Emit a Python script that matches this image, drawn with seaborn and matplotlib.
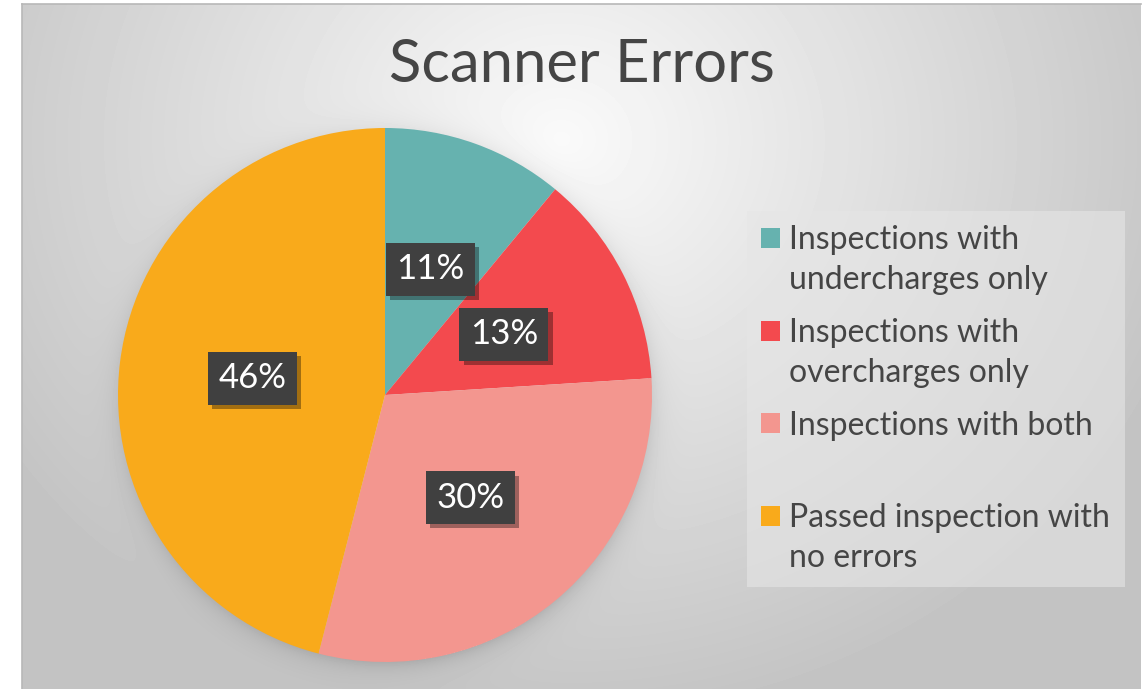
# Pie chart of scanner inspection results
import numpy as np
import matplotlib
matplotlib.use("Agg")
import matplotlib.pyplot as plt
import matplotlib.patheffects as pe
from matplotlib.patches import Rectangle
from matplotlib.legend_handler import HandlerPatch
import seaborn as sns

# data
categories = [
    "Inspections with\nundercharges only",
    "Inspections with\novercharges only",
    "Inspections with both\n ",
    "Passed inspection with\nno errors",
]
shares = [11, 13, 30, 46]
colors = ["#66B2AF", "#F34A4E", "#F3968F", "#F9AA1B"]
title = "Scanner Errors"

sns.set_theme(style="white")
plt.rcParams["font.family"] = ["Lato", "DejaVu Sans"]

W, H = 1145, 689
fig = plt.figure(figsize=(W / 100, H / 100), dpi=100)
fig.patch.set_facecolor("white")

# background: radial grey gradient plus a soft shadow round the pie
bg = fig.add_axes([22 / W, 0, (W - 4 - 22) / W, (H - 4) / H], zorder=0)
xs = np.arange(22, W - 4)
ys = np.arange(4, H)
X, Y = np.meshgrid(xs, ys)
d = np.sqrt(((X - 560) / 700.0) ** 2 + ((Y - 140) / 620.0) ** 2)
val = np.clip(250 - 58 * d, 196, 250)
r = np.sqrt((X - 386) ** 2 + (Y - 399) ** 2)
shadow = np.where(r > 262, 28 * np.exp(-(r - 262) / 11.0), 0)
val = (val - shadow) / 255.0
bg.imshow(val, cmap="gray", vmin=0, vmax=1, extent=(22, W - 4, H, 4), aspect="auto")
bg.set_xlim(22, W - 4)
bg.set_ylim(H, 4)
bg.set_xticks([])
bg.set_yticks([])
for side in ["right", "bottom"]:
    bg.spines[side].set_visible(False)
for side in ["top", "left"]:
    bg.spines[side].set_color("#b8b8b8")
    bg.spines[side].set_linewidth(1.2)

# pie: centre (385, 395) px, radius 267 px
R = 267
cx, cy = 385, 395
ax = fig.add_axes([(cx - R) / W, (H - cy - R) / H, 2 * R / W, 2 * R / H], zorder=1)
wedges, texts, autotexts = ax.pie(
    shares, colors=colors, startangle=90, counterclock=False,
    autopct="%1.0f%%", pctdistance=0.5, radius=1,
    wedgeprops=dict(linewidth=0),
)
ax.set_xlim(-1, 1)
ax.set_ylim(-1, 1)
ax.set_aspect("equal")
ax.axis("off")

for t in autotexts:
    t.set_color("white")
    t.set_fontsize(25)
    t.set_bbox(dict(boxstyle="square,pad=0.3", facecolor="#404040", edgecolor="none"))
    t.get_bbox_patch().set_path_effects([
        pe.SimplePatchShadow(offset=(3, -3), shadow_rgbFace="black", alpha=0.35),
        pe.Normal(),
    ])

fig.text(582 / W, (H - 82) / H, title, ha="center", va="baseline",
         fontsize=43, color="#454545")

LEG_FS = 23
SHIFT_PT = 16.5


# square marker on the first line of a two-line label
def top_square(legend, orig_handle, xdescent, ydescent, width, height, fontsize):
    return Rectangle((-xdescent, -ydescent + SHIFT_PT), width, height)


leg = fig.legend(
    wedges, categories, loc="upper left",
    bbox_to_anchor=(747 / W, (H - 211) / H), borderaxespad=0,
    fontsize=LEG_FS, frameon=True, fancybox=False,
    handlelength=0.58, handleheight=0.58, handletextpad=0.3,
    borderpad=0.45, labelspacing=0.72,
    handler_map={w: HandlerPatch(patch_func=top_square) for w in wedges},
)
frame = leg.get_frame()
frame.set_facecolor("#e6e6e6")
frame.set_alpha(0.6)
frame.set_edgecolor("none")
for t in leg.get_texts():
    t.set_color("#454545")
    t.set_linespacing(1.4)

fig.savefig("out.png", dpi=100)
